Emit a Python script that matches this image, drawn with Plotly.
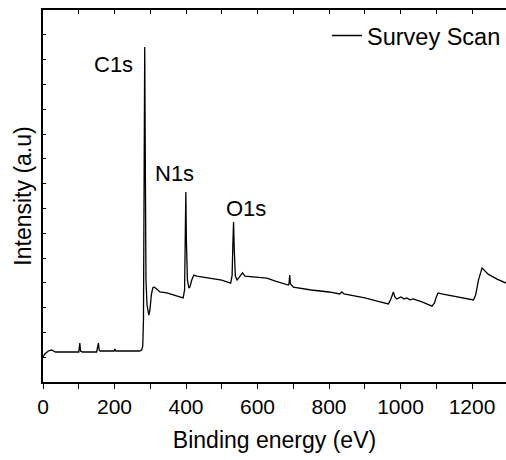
import plotly.graph_objects as go

# Binding energy (eV) and intensity (a.u.)
energy = [0, 5, 15, 24, 35, 60, 100, 102, 103, 105, 110, 150, 153, 155, 157, 160,
          199, 201, 204, 270, 276, 279, 281, 283, 284.5, 286, 288, 291, 296, 299,
          303, 307, 311, 318, 327, 346, 370, 392, 396, 398, 399.5, 401, 404, 408,
          411, 416, 422, 430, 460, 500, 525, 529, 531, 533, 535, 538, 543, 550,
          558, 565, 600, 626, 650, 686, 688, 690, 692, 700, 750, 800, 830, 836,
          842, 900, 943, 966, 972, 980, 984, 990, 1001, 1010, 1017, 1027, 1035,
          1060, 1088, 1095, 1100, 1105, 1115, 1130, 1160, 1190, 1204, 1210, 1218,
          1228, 1235, 1245, 1270, 1295]
intensity = [1.01, 1.13, 1.25, 1.29, 1.21, 1.21, 1.21, 1.45, 1.57, 1.25, 1.21, 1.21, 1.45, 1.57, 1.29, 1.25,
             1.25, 1.33, 1.25, 1.25, 1.29, 1.45, 2.50, 10.56, 13.51, 9.35, 4.11, 3.10, 2.70, 2.90,
             3.51, 3.79, 3.83, 3.75, 3.63, 3.59, 3.47, 3.39, 3.71, 6.13, 7.66, 5.73, 4.11, 3.79,
             3.83, 4.11, 4.31, 4.27, 4.19, 4.11, 3.99, 4.31, 5.52, 6.45, 5.32, 4.27, 4.11, 4.23,
             4.40, 4.27, 4.23, 4.19, 4.07, 3.91, 3.95, 4.31, 3.95, 3.83, 3.71, 3.63, 3.55, 3.63,
             3.55, 3.39, 3.23, 3.15, 3.31, 3.63, 3.43, 3.35, 3.43, 3.35, 3.39, 3.31, 3.35,
             3.23, 3.06, 3.19, 3.43, 3.59, 3.55, 3.51, 3.43, 3.35, 3.31, 3.51, 4.11,
             4.60, 4.48, 4.35, 4.15, 3.99]

peak_labels = ["C1s", "N1s", "O1s"]
peak_label_x = [198, 369, 569]
peak_label_y = [12.82, 8.41, 7.0]

x_range = [0, 1295]
y_range = [0, 15]

FONT = "Arial, Liberation Sans, sans-serif"

fig = go.Figure()
fig.add_trace(go.Scatter(x=energy, y=intensity, mode="lines", name="Survey Scan",
                         line=dict(color="black", width=1.3)))
# invisible trace so the top (mirror) axis is drawn
fig.add_trace(go.Scatter(x=x_range, y=[None, None], xaxis="x2", showlegend=False,
                         hoverinfo="skip", mode="lines"))

for t, xx, yy in zip(peak_labels, peak_label_x, peak_label_y):
    fig.add_annotation(x=xx, y=yy, text=t, showarrow=False,
                       font=dict(family=FONT, size=22, color="black"))

fig.update_layout(
    width=506, height=460,
    margin=dict(l=43, r=0, t=10, b=78),
    paper_bgcolor="white", plot_bgcolor="white",
    font=dict(family=FONT, color="black"),
    showlegend=True,
    legend=dict(x=1.0, y=0.99, xanchor="right", yanchor="top",
                bgcolor="rgba(0,0,0,0)", font=dict(family=FONT, size=23.5),
                itemwidth=30, borderwidth=0, tracegroupgap=0),
    xaxis=dict(range=x_range, showgrid=False, zeroline=False,
               showline=True, linecolor="black", linewidth=1.5,
               ticks="outside", ticklen=5, tickwidth=1.2, tickcolor="black",
               dtick=200, tick0=0,
               minor=dict(dtick=100, ticks="outside", ticklen=5, tickwidth=1.2, tickcolor="black"),
               tickfont=dict(family=FONT, size=21, color="black"),
               title=dict(text="Binding energy (eV)", font=dict(family=FONT, size=23), standoff=15)),
    xaxis2=dict(range=x_range, overlaying="x", side="top", anchor="y",
                showgrid=False, zeroline=False, showline=True, linecolor="black", linewidth=1.5,
                ticks="inside", ticklen=4, tickwidth=1.2, tickcolor="black",
                dtick=100, tick0=0, showticklabels=False),
    yaxis=dict(range=y_range, showgrid=False, zeroline=False,
               showline=True, linecolor="black", linewidth=1.5,
               ticks="inside", ticklen=3, tickwidth=1.2, tickcolor="black",
               dtick=1, tick0=0, showticklabels=False,
               title=dict(text="Intensity (a.u)", font=dict(family=FONT, size=23), standoff=3)),
)

fig.write_html("out.html")
